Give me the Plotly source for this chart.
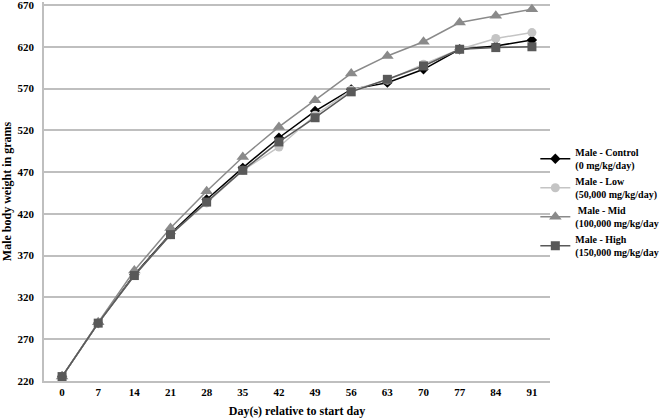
import plotly.graph_objects as go

days = ["0", "7", "14", "21", "28", "35", "42", "49", "56", "63", "70", "77", "84", "91"]
control = [225, 289, 347, 396, 437, 475, 511, 543, 569, 577, 593, 617, 621, 628]
low = [225, 289, 346, 395, 433, 472, 500, 538, 568, 580, 599, 617, 630, 637]
mid = [225, 290, 352, 403, 447, 488, 524, 556, 588, 609, 626, 649, 657, 665]
high = [225, 289, 346, 395, 434, 472, 506, 535, 566, 581, 597, 617, 619, 620]
y_ticks = [220, 270, 320, 370, 420, 470, 520, 570, 620, 670]

names = [
    "Male - Control<br>(0 mg/kg/day)",
    "Male - Low<br>(50,000 mg/kg/day)",
    " Male - Mid<br>(100,000 mg/kg/day",
    "Male - High<br>(150,000 mg/kg/day",
]
series = [control, low, mid, high]
colors = ["#000000", "#c4c4c4", "#8a8a8a", "#595959"]
symbols = ["diamond", "circle", "triangle-up", "square"]
sizes = [8, 9, 11, 9]

fig = go.Figure()
for nm, ys, c, s, sz in zip(names, series, colors, symbols, sizes):
    fig.add_trace(go.Scatter(
        x=days, y=ys, name=nm, mode="lines+markers",
        line=dict(color=c, width=1.5),
        marker=dict(color=c, symbol=s, size=sz),
    ))

font_family = "Liberation Serif, Times New Roman, serif"
fig.update_layout(
    width=661, height=420,
    margin=dict(l=44, r=111, t=2, b=39, autoexpand=False),
    paper_bgcolor="white", plot_bgcolor="white",
    font=dict(family=font_family, color="black", size=11),
    showlegend=True,
    legend=dict(
        x=0.971, xanchor="left", y=0.638, yanchor="top",
        font=dict(family=font_family, size=10, color="black", weight="bold"),
        tracegroupgap=7, itemwidth=30,
        bgcolor="rgba(0,0,0,0)",
    ),
    xaxis=dict(
        type="category", range=[-0.5, 13.5],
        showgrid=False, showline=True, linecolor="#bfbfbf", linewidth=1.5,
        ticks="", tickfont=dict(family=font_family, size=11, weight="bold"),
        title=dict(text="<b>Day(s) relative to start day</b>",
                   font=dict(family=font_family, size=12), standoff=10),
    ),
    yaxis=dict(
        range=[219.7, 673.6], tickvals=y_ticks, ticklabeloverflow="allow",
        showgrid=True, gridcolor="#bfbfbf", gridwidth=1.5,
        showline=True, linecolor="#bfbfbf", linewidth=1.5,
        zeroline=False, ticks="", ticklabelstandoff=6,
        tickfont=dict(family=font_family, size=11, weight="bold"),
        title=dict(text="<b>Male body weight in grams</b>",
                   font=dict(family=font_family, size=12), standoff=6),
    ),
)

fig.write_html("out.html")
